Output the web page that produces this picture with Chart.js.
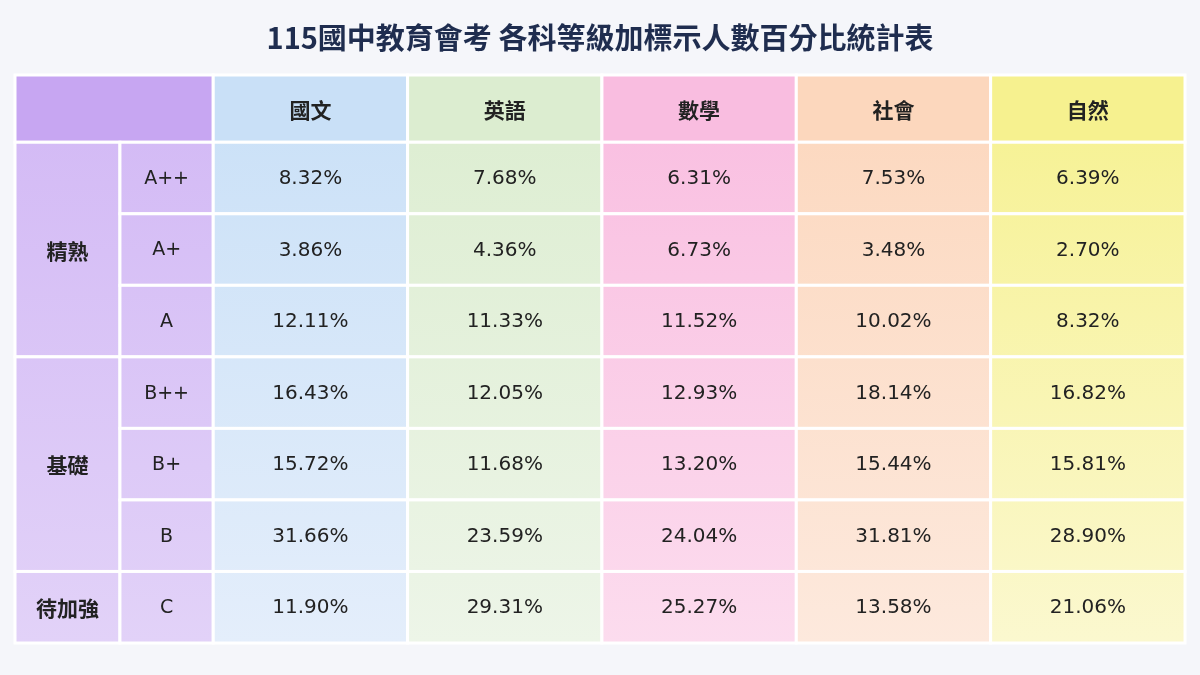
<!DOCTYPE html>
<html><head><meta charset="utf-8">
<script src="https://cdn.jsdelivr.net/npm/chart.js@4/dist/chart.umd.min.js"></script>
<style>html,body{margin:0;background:#f5f6fa}#w{width:1200px;height:675px}</style>
</head><body><div id="w"><canvas id="c"></canvas></div>
<script>
const title = "115國中教育會考 各科等級加標示人數百分比統計表";
const subjects = ["國文","英語","數學","社會","自然"];
const grades = ["A++","A+","A","B++","B+","B","C"];
const groups = [["精熟",0,3],["基礎",3,6],["待加強",6,7]];
const chinese = [8.32,3.86,12.11,16.43,15.72,31.66,11.90];
const english = [7.68,4.36,11.33,12.05,11.68,23.59,29.31];
const math = [6.31,6.73,11.52,12.93,13.20,24.04,25.27];
const social = [7.53,3.48,10.02,18.14,15.44,31.81,13.58];
const science = [6.39,2.70,8.32,16.82,15.81,28.90,21.06];
const series = [chinese,english,math,social,science];

// layout (scale units)
const X_GROUP=[0,0.54], X_GRADE=[0.54,1.02], SUB0=1.02;
const HEAD=0.94;
const colTop=["#c9e0f7","#dcedd0","#f9bde0","#fcd7bd","#f6f18f"];
const colBot=["#e4eefb","#edf5e8","#fcdcee","#fde9dd","#fbf8cf"];

const points=[];
series.forEach((s,i)=>s.forEach((v,r)=>points.push({x:SUB0+i+0.5,y:HEAD+r+0.5,v})));

const tablePlugin={id:'tbl',beforeDatasetsDraw(ch){
  const c=ch.ctx,X=ch.scales.x,Y=ch.scales.y;
  const px=v=>X.getPixelForValue(v),py=v=>Y.getPixelForValue(v);
  const top=py(0),bot=py(HEAD+grades.length);
  c.save();
  c.fillStyle='#1f2d4f';c.font='bold 29px "Noto Sans CJK TC"';c.textAlign='center';c.textBaseline='middle';
  c.fillText(title,600,38);
  const cell=(x0,x1,y0,y1,fill,txt,font)=>{
    const a=px(x0),b=px(x1),t=py(y0),u=py(y1);
    c.fillStyle=fill;c.fillRect(a,t,b-a,u-t);
    c.strokeStyle='#ffffff';c.lineWidth=3;c.strokeRect(a,t,b-a,u-t);
    if(txt){c.fillStyle='#222';c.font=font;c.fillText(txt,(a+b)/2,(t+u)/2+1);}
  };
  const lav=c.createLinearGradient(0,top,0,bot);lav.addColorStop(0,'#d2b8f5');lav.addColorStop(1,'#e2d2f8');
  cell(X_GROUP[0],X_GRADE[1],0,HEAD,'#c7a6f2');
  groups.forEach(g=>cell(X_GROUP[0],X_GROUP[1],HEAD+g[1],HEAD+g[2],lav,g[0],'bold 21px "Noto Sans CJK TC"'));
  grades.forEach((g,r)=>cell(X_GRADE[0],X_GRADE[1],HEAD+r,HEAD+r+1,lav,g,'19px "DejaVu Sans"'));
  subjects.forEach((s,i)=>{
    const gr=c.createLinearGradient(0,top,0,bot);gr.addColorStop(0,colTop[i]);gr.addColorStop(1,colBot[i]);
    cell(SUB0+i,SUB0+i+1,0,HEAD,colTop[i],s,'bold 21px "Noto Sans CJK TC"');
    grades.forEach((g,r)=>cell(SUB0+i,SUB0+i+1,HEAD+r,HEAD+r+1,gr,null));
  });
  c.restore();
}};
const labelPlugin={id:'lbl',afterDatasetsDraw(ch){
  const c=ch.ctx;c.save();c.fillStyle='#222';c.font='20px "DejaVu Sans"';c.textAlign='center';c.textBaseline='middle';
  ch.getDatasetMeta(0).data.forEach((p,i)=>c.fillText(points[i].v.toFixed(2)+'%',p.x,p.y+1));
  c.restore();
}};
new Chart(document.getElementById('c'),{
  type:'scatter',
  data:{datasets:[{data:points,pointRadius:0}]},
  options:{responsive:true,maintainAspectRatio:false,animation:false,
    layout:{padding:{left:15,right:15,top:75,bottom:32}},
    plugins:{legend:{display:false},tooltip:{enabled:false}},
    scales:{x:{type:'linear',min:0,max:SUB0+subjects.length,display:false},
            y:{type:'linear',min:0,max:HEAD+grades.length,reverse:true,display:false}}},
  plugins:[tablePlugin,labelPlugin]
});
</script></body></html>
